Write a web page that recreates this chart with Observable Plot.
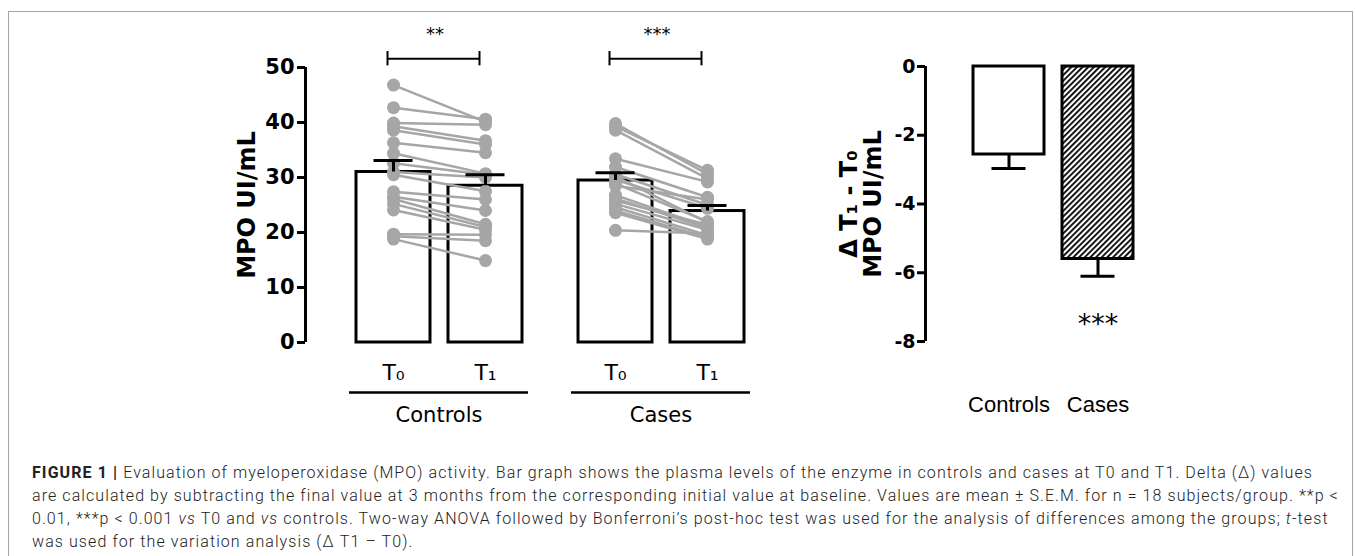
<!DOCTYPE html>
<html>
<head>
<meta charset="utf-8">
<script src="https://cdn.jsdelivr.net/npm/d3@7"></script>
<script src="https://cdn.jsdelivr.net/npm/@observablehq/plot@0.6"></script>
<style>
  html, body { margin: 0; padding: 0; background: #fff; width: 1355px; height: 556px; overflow: hidden; }
  #wrap { position: relative; width: 1355px; height: 556px; overflow: hidden; }
  #frame { position: absolute; left: 8px; top: 11px; width: 1343px; height: 640px; border: 1px solid #a6a6a6; }
  .layer { position: absolute; left: 0; top: 0; }
  #caption { position: absolute; left: 32px; top: 461px; font-family: Roboto, "Liberation Sans", sans-serif; font-weight: 300; font-size: 16px; line-height: 23px; color: #222; white-space: nowrap; }
  #caption b { font-weight: 700; }
  #caption div span { display: inline-block; }
</style>
</head>
<body>
<div id="wrap">
  <div id="frame"></div>
  <svg width="0" height="0" style="position:absolute">
    <defs>
      <pattern id="hatch" patternUnits="userSpaceOnUse" width="4" height="4" patternTransform="rotate(45)">
        <rect width="4" height="4" fill="white"></rect>
        <rect x="0" y="0" width="1.8" height="4" fill="black"></rect>
      </pattern>
    </defs>
  </svg>
  <div id="left" class="layer"></div>
  <div id="leftAxis" class="layer"></div>
  <div id="right" class="layer"></div>
  <div id="rightAxis" class="layer"></div>
  <div id="caption">
    <div><span id="line1"><b>FIGURE 1 |</b> Evaluation of myeloperoxidase (MPO) activity. Bar graph shows the plasma levels of the enzyme in controls and cases at T0 and T1. Delta (Δ) values</span></div>
    <div><span>are calculated by subtracting the final value at 3 months from the corresponding initial value at baseline. Values are mean ± S.E.M. for n = 18 subjects/group. **p &lt;</span></div>
    <div><span>0.01, ***p &lt; 0.001 <i>vs</i> T0 and <i>vs</i> controls. Two-way ANOVA followed by Bonferroni’s post-hoc test was used for the analysis of differences among the groups; <i>t</i>-test</span></div>
    <div><span>was used for the variation analysis (Δ T1 – T0).</span></div>
  </div>
</div>
<script>
// ---------------- DATA ----------------
const groups = ["Controls", "Cases"];
const times = ["T0", "T1"];
const timeLabels = ["T₀", "T₁"];

// individual subjects (MPO UI/mL), paired T0 -> T1
const controlsT0 = [46.8, 42.7, 39.9, 39.3, 38.6, 36.3, 34.4, 32.6, 31.0, 30.5, 27.4, 26.5, 26.1, 25.2, 24.1, 19.7, 19.3, 18.8];
const controlsT1 = [40.1, 40.6, 39.6, 36.7, 36.0, 34.5, 30.7, 30.5, 30.0, 27.5, 26.0, 24.0, 21.5, 21.0, 20.5, 19.6, 18.5, 14.9];
const casesT0    = [39.8, 39.3, 38.6, 33.4, 31.9, 30.6, 30.2, 29.6, 28.9, 28.5, 26.8, 26.2, 25.8, 25.2, 24.6, 24.0, 23.6, 20.4];
const casesT1    = [30.6, 31.3, 29.8, 29.2, 26.4, 25.0, 21.8, 24.4, 22.0, 26.0, 21.0, 20.8, 21.4, 20.5, 19.5, 19.0, 18.8, 19.8];

// bar means and S.E.M. (Controls T0, Controls T1, Cases T0, Cases T1)
const barMeans = [31.0, 28.5, 29.45, 23.9];
const barSEM   = [2.1, 2.0, 1.4, 1.0];
const yTicksLeft = [0, 10, 20, 30, 40, 50];
const yLabelLeft = "MPO UI/mL";
const sigLabels = ["**", "***"];
const sigLevel = 51.6;

// delta panel
const deltaGroups = ["Controls", "Cases"];
const deltaMeans = [-2.56, -5.6];
const deltaSEM = [0.41, 0.5];
const deltaSig = ["", "***"];
const yTicksRight = [0, -2, -4, -6, -8];
const yLabelRight = ["Δ T₁ - T₀", "MPO UI/mL"];

// ---------------- TABLES ----------------
const bars = [];
groups.forEach((g, gi) => times.forEach((t, ti) => bars.push({
  group: g, time: t, label: timeLabels[ti], mean: barMeans[gi * 2 + ti], sem: barSEM[gi * 2 + ti]
})));
const subjects = [];
[[controlsT0, controlsT1], [casesT0, casesT1]].forEach(([a, b], gi) => a.forEach((v, i) => {
  subjects.push({group: groups[gi], id: groups[gi] + i, time: times[0], value: v});
  subjects.push({group: groups[gi], id: groups[gi] + i, time: times[1], value: b[i]});
}));
const brackets = groups.map((g, i) => ({group: g, x1: times[0], x2: times[1], level: sigLevel, label: sigLabels[i]}));
const bracketEnds = brackets.flatMap(b => times.map(t => ({group: b.group, time: t, level: b.level})));
const deltas = deltaGroups.map((g, i) => ({group: g, mean: deltaMeans[i], sem: deltaSEM[i], sig: deltaSig[i]}));

// ---------------- LAYOUT ----------------
const W = 1355, H = 430;
const baseStyle = {background: "transparent", overflow: "visible", fontFamily: "'DejaVu Sans', sans-serif", color: "black"};
const grey = "#a6a6a6";

// Left panel
const L = {top: 67, bottom: 342, left: 305, right: 794};
const leftPlot = Plot.plot({
  width: W, height: H,
  marginTop: L.top, marginBottom: H - L.bottom, marginLeft: L.left, marginRight: W - L.right,
  style: baseStyle,
  fx: {domain: groups, paddingInner: 0.2477, paddingOuter: 0.2252, axis: null, label: null},
  x: {domain: times, paddingInner: 0.196, paddingOuter: 0, axis: null, label: null},
  y: {domain: [0, 50], axis: null},
  marks: [
    Plot.barY(bars, {fx: "group", x: "time", y: "mean", fill: "white", stroke: "black", strokeWidth: 3}),
    Plot.line(subjects, {fx: "group", x: "time", y: "value", z: "id", stroke: grey, strokeWidth: 2.5}),
    Plot.dot(subjects, {fx: "group", x: "time", y: "value", r: 6.5, fill: grey, stroke: "none"}),
    Plot.ruleX(bars, {fx: "group", x: "time", y1: "mean", y2: d => d.mean + d.sem, stroke: "black", strokeWidth: 3}),
    Plot.tickY(bars, {fx: "group", x: "time", y: d => d.mean + d.sem, stroke: "black", strokeWidth: 3, insetLeft: 17.5, insetRight: 17.5}),
    Plot.link(brackets, {fx: "group", x1: "x1", x2: "x2", y1: "level", y2: "level", stroke: "black", strokeWidth: 2, dx: -6}),
    Plot.ruleX(bracketEnds, {fx: "group", x: "time", y1: d => d.level - 1.3, y2: d => d.level + 1.3, stroke: "black", strokeWidth: 2, dx: -6}),
    Plot.text(brackets, {fx: "group", y: "level", text: "label", dy: -24, dx: -4, fontSize: 18, lineAnchor: "middle"}),
    Plot.text(bars, {fx: "group", x: "time", text: "label", frameAnchor: "bottom", textAnchor: "middle", lineAnchor: "middle", dy: 30, fontSize: 22, ariaLabel: "tlabel"}),
    Plot.ruleY(groups, {fx: d => d, y: () => 0, dy: 50, insetLeft: -6, insetRight: -6, stroke: "black", strokeWidth: 2.5}),
    Plot.text(groups, {fx: d => d, text: d => d, frameAnchor: "bottom", textAnchor: "middle", lineAnchor: "middle", dy: 73, fontSize: 21, ariaLabel: "glabel"})
  ]
});
d3.select(leftPlot).selectAll('g[aria-label="glabel"] text').style("letter-spacing", "2px");
// render the subscript of T0 / T1 as a lowered, smaller digit
d3.select(leftPlot).selectAll('g[aria-label="tlabel"] text').each(function () {
  const s = this.textContent;
  const digit = String("₀₁₂₃₄₅₆₇₈₉".indexOf(s.slice(1)));
  const t = d3.select(this);
  t.text(s[0]);
  t.append("tspan").attr("dx", 4).attr("dy", "0.32em").attr("font-size", "0.72em").text(digit);
});
document.getElementById("left").appendChild(leftPlot);

const leftAxis = Plot.plot({
  width: W, height: H,
  marginTop: L.top, marginBottom: H - L.bottom, marginLeft: L.left, marginRight: W - L.left - 10,
  style: baseStyle,
  x: {domain: [0, 1], axis: null},
  y: {domain: [0, 50], axis: null},
  marks: [
    Plot.axisY(yTicksLeft, {tickSize: 8, tickPadding: 3, strokeWidth: 3, fontSize: 21, fontWeight: "bold", tickFormat: d => String(d), label: null}),
    Plot.ruleX([0], {stroke: "black", strokeWidth: 3}),
    Plot.text([yLabelLeft], {frameAnchor: "left", textAnchor: "middle", rotate: -90, dx: -58, fontSize: 24, fontWeight: "bold", lineAnchor: "middle"})
  ]
});
document.getElementById("leftAxis").appendChild(leftAxis);

// Right panel
const R = {top: 66, bottom: 341, left: 925, right: 1134};
const rightPlot = Plot.plot({
  width: W, height: H,
  marginTop: R.top, marginBottom: H - R.bottom, marginLeft: R.left, marginRight: W - R.right,
  style: baseStyle,
  x: {domain: deltaGroups, paddingInner: 0.2, paddingOuter: 0, insetLeft: 48, axis: null},
  y: {domain: [-8, 0], axis: null},
  marks: [
    Plot.barY(deltas, {filter: d => d.group === deltaGroups[0], x: "group", y: "mean", fill: "white", stroke: "black", strokeWidth: 3}),
    Plot.barY(deltas, {filter: d => d.group === deltaGroups[1], x: "group", y: "mean", fill: "url(#hatch)", stroke: "black", strokeWidth: 3}),
    Plot.ruleX(deltas, {x: "group", y1: "mean", y2: d => d.mean - d.sem, stroke: "black", strokeWidth: 3}),
    Plot.tickY(deltas, {x: "group", y: d => d.mean - d.sem, stroke: "black", strokeWidth: 3, insetLeft: 18.5, insetRight: 18.5}),
    Plot.text(deltas, {x: "group", y: d => d.mean - d.sem, text: "sig", dy: 48, fontSize: 27, lineAnchor: "middle"}),
    Plot.text(deltas, {x: "group", text: "group", frameAnchor: "bottom", textAnchor: "middle", lineAnchor: "middle", dy: 63, fontSize: 22, fontFamily: "'Liberation Sans', Arial, sans-serif"})
  ]
});
document.getElementById("right").appendChild(rightPlot);

const rightAxis = Plot.plot({
  width: W, height: H,
  marginTop: R.top, marginBottom: H - R.bottom, marginLeft: R.left, marginRight: W - R.left - 10,
  style: baseStyle,
  x: {domain: [0, 1], axis: null},
  y: {domain: [-8, 0], axis: null},
  marks: [
    Plot.axisY(yTicksRight, {tickSize: 8, tickPadding: 2, strokeWidth: 3, fontSize: 19, fontWeight: "bold", tickFormat: d => String(d), label: null}),
    Plot.ruleX([0], {stroke: "black", strokeWidth: 3}),
    Plot.text([yLabelRight.join("\n")], {frameAnchor: "left", textAnchor: "middle", rotate: -90, dx: -64, fontSize: 24, fontWeight: "bold", lineAnchor: "middle", lineHeight: 1})
  ]
});
document.getElementById("rightAxis").appendChild(rightAxis);

// Caption: fit the first line to the reference width
const cap = document.getElementById("caption");
const line1 = document.getElementById("line1");
const natural = line1.getBoundingClientRect().width;
const n = line1.textContent.length;
cap.style.letterSpacing = ((1281 - natural) / n) + "px";
</script>
</body>
</html>
